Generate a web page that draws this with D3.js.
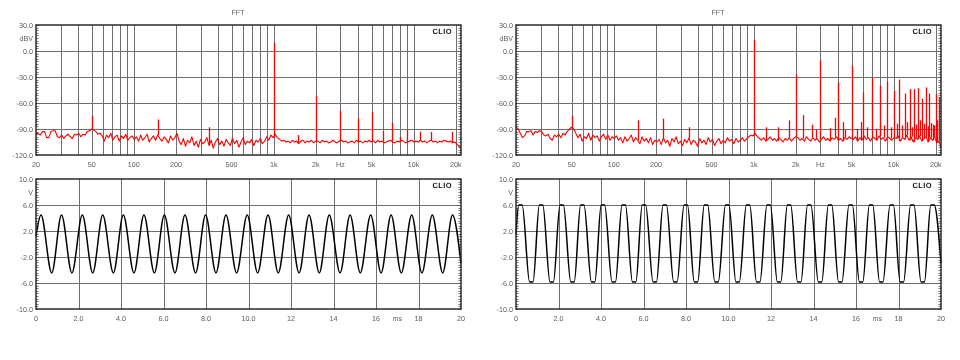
<!DOCTYPE html>
<html><head><meta charset="utf-8">
<script src="https://cdn.jsdelivr.net/npm/d3@7"></script>
<style>
html,body{margin:0;padding:0;background:#fff;}
svg{display:block;will-change:transform;transform:translateZ(0);}
text{font-family:"Liberation Sans",Arial,sans-serif;text-rendering:geometricPrecision;}
</style></head><body>
<svg id="chart" width="960" height="360"></svg>
<script>
// ---------- axis / tick data ----------
const fftTickValues = [20,50,100,200,500,1000,2000,3000,5000,10000,20000];
const fftTickLabels = ["20","50","100","200","500","1k","2k","Hz","5k","10k","20k"];
const fftGridFreqs = [30,40,50,60,70,80,90,100,200,300,400,500,600,700,800,900,1000,2000,3000,4000,5000,6000,7000,8000,9000,10000,20000];
const dbTickValues = [30,15,0,-30,-60,-90,-120];
const dbTickLabels = ["30.0","dBV","0.0","-30.0","-60.0","-90.0","-120.0"];
const dbGrid = [0,-30,-60,-90];
const msTickValues = [0,2,4,6,8,10,12,14,16,17,18,20];
const msTickLabels = ["0","2.0","4.0","6.0","8.0","10.0","12","14","16","ms","18","20"];
const msGrid = [2,4,6,8,10,12,14,16,18];
const vTickValues = [10,8,6,2,-2,-6,-10];
const vTickLabels = ["10.0","V","6.0","2.0","-2.0","-6.0","-10.0"];
const vGrid = [6,2,-2,-6];

// ---------- FFT data (dBV), noise floor sampled log-spaced from 20 Hz to 21.8 kHz ----------
const fftFreqStart = 20, fftFreqEnd = 21800;
const noiseLeft = [
 -95,-95,-97,-93,-93,-100,-100,-93,-92,-92,-99,-100,-97,-101,-98,-96,-99,-101,-96,-97,-95,-99,-96,-97,-93,-92,-90,
 -91,-93,-96,-95,-98,-104,-97,-100,-95,-103,-99,-97,-104,-98,-101,-96,-103,-100,-98,-102,
 -99,-104,-97,-103,-100,-96,-105,-101,-98,-103,-97,-101,-104,-99,-102,-106,-98,-103,-100,-95,
 -104,-108,-101,-110,-103,-106,-99,-109,-104,-111,-102,-107,-105,-100,-109,-103,-112,-105,-101,-108,-104,-110,-102,-106,-109,-101,-107,-103,-111,-105,-100,-108,-104,-106,-102,-109,-103,-105,-101,-107,-104,-99,-103,-97,-100,
 -96,-100,-102,-104,-103,-105,-104,-106,-103,-105,-104,-107,-104,-103,-106,-104,-105,-103,-106,-104,
 -104,-106,-103,-105,-104,-106,-105,-103,-105,-106,-104,-103,-105,-104,-106,-105,-104,-106,-103,-105,-104,-106,-104,-105,-103,-105,
 -104,-106,-103,-105,-104,-106,-105,-104,-103,-105,-106,-104,-105,-103,-104,-106,-105,-104,-103,-105,
 -104,-105,-103,-105,-104,-106,-104,-103,-105,-104,-106,-104,-105,-103,-104,-105,-104,-106,-105,-107,-110,-113
];
const noiseRight = [
 -88,-90,-95,-100,-98,-93,-93,-92,-97,-93,-94,-92,-93,-97,-98,-96,-101,-103,-97,-99,-96,-100,-95,-97,-93,-90,-88,
 -90,-95,-100,-96,-104,-99,-101,-95,-103,-97,-100,-98,-104,-99,-96,-102,-97,-103,-99,-101,
 -98,-103,-100,-106,-99,-104,-101,-97,-105,-100,-103,-107,-99,-104,-101,-106,-100,-108,-103,-105,
 -102,-108,-100,-106,-103,-110,-101,-105,-99,-107,-104,-109,-102,-106,-100,-108,-103,-105,-110,-101,-106,-103,-108,-100,-105,-102,-109,-104,-101,-107,-103,-106,-100,-104,-102,-107,-101,-105,-103,-100,-104,-101,-99,-97,-98,
 -95,-99,-101,-103,-100,-104,-102,-99,-103,-101,-104,-100,-102,-105,-101,-103,-100,-104,-101,-99,
 -100,-103,-101,-104,-99,-102,-104,-100,-103,-101,-105,-102,-99,-103,-101,-104,-100,-102,-99,-103,-101,-104,-100,-102,-99,-101,
 -102,-99,-104,-100,-103,-98,-102,-100,-104,-99,-101,-103,-98,-102,-100,-104,-99,-101,-103,-100,
 -101,-98,-104,-100,-102,-97,-103,-99,-105,-100,-102,-98,-104,-101,-99,-105,-100,-103,-98,-106,-104,-112
];
const spikeFreqsLeft  = [50,150,345,1000,1500,2000,3000,4000,5000,6000,7000,8000,9000,11100,13300,18800];
const spikeLevelsLeft = [-75,-79,-88,9.6,-97,-51.5,-69,-77.7,-70.8,-92.7,-83,-99,-91,-93,-93.5,-93.5];
const spikeFreqsRight  = [50,150,223,345,1000,1220,1480,1800,2000,2240,2610,2800,3000,3500,3830,4000,4330,4500,5000,5500,5850,6000,6500,7000,7500,7960,8000,8500,9000,9500,10000,10500,11000,11500,12000,12500,13000,13500,14000,14500,15000,15500,16000,16500,17000,17500,18000,18500,19000,19500,20000,20500,21000];
const spikeLevelsRight = [-75,-80,-78,-88,12.7,-88,-88,-80,-27,-74,-85,-91,-11,-89,-77,-36,-82,-91,-17,-90,-82,-48,-88,-31,-90,-85,-40,-86,-35,-88,-46,-84,-33,-86,-49,-82,-44,-88,-44,-85,-43,-80,-55,-84,-42,-87,-49,-83,-85,-86,-50,-80,-53];

// ---------- time-domain data (ms, V) ----------
const waveAPeakT   = [0.235,1.20,2.18,3.14,4.11,5.08,6.04,7.01,7.98,8.94,9.94,10.92,11.89,12.85,13.80,14.78,15.75,16.71,17.68,18.65,19.60];
const waveATroughT = [0.74,1.69,2.67,3.64,4.61,5.57,6.54,7.51,8.47,9.44,10.43,11.40,12.38,13.33,14.31,15.26,16.24,17.19,18.16,19.14];
const waveAPeakV = 4.45, waveATroughV = -4.45, waveAStartV = 1.2, waveAEndV = -3.0;

const waveBPeakT   = [0.21,1.18,2.15,3.12,4.09,5.07,6.02,7.00,7.99,8.94,9.94,10.92,11.89,12.85,13.80,14.78,15.75,16.71,17.68,18.65,19.60];
const waveBTroughT = [0.72,1.68,2.66,3.63,4.60,5.56,6.53,7.50,8.47,9.44,10.43,11.40,12.38,13.33,14.31,15.26,16.24,17.19,18.16,19.14];
const waveBClipHi = 6.0, waveBClipLo = -5.85, waveBFlatHalf = 0.08, waveBStartV = 1.5, waveBEndV = -3.0;

// ---------- drawing ----------
const svg = d3.select("#chart");
const PW = 425, PH = 130;
const gridColor = "#6e6e6e", frameColor = "#2a2a2a", labelColor = "#606060";

function frameAndLabels(g, x, y, xGrid, yGrid, xVals, xLabs, yVals, yLabs, minorStep, yDomain) {
  g.selectAll(".vg").data(xGrid).join("line")
    .attr("x1", d => Math.round(x(d)) + 0.5).attr("x2", d => Math.round(x(d)) + 0.5)
    .attr("y1", 0).attr("y2", PH).attr("stroke", gridColor).attr("stroke-width", 1);
  g.selectAll(".hg").data(yGrid).join("line")
    .attr("y1", d => Math.round(y(d)) + 0.5).attr("y2", d => Math.round(y(d)) + 0.5)
    .attr("x1", 0).attr("x2", PW).attr("stroke", gridColor).attr("stroke-width", 1);
  const minors = d3.range(yDomain[0], yDomain[1] + 1e-9, minorStep);
  g.selectAll(".mtl").data(minors).join("line")
    .attr("x1", 0).attr("x2", 2.5).attr("y1", d => Math.round(y(d)) + 0.5).attr("y2", d => Math.round(y(d)) + 0.5)
    .attr("stroke", "#555").attr("stroke-width", 0.8);
  g.selectAll(".mtr").data(minors).join("line")
    .attr("x1", PW - 2.5).attr("x2", PW).attr("y1", d => Math.round(y(d)) + 0.5).attr("y2", d => Math.round(y(d)) + 0.5)
    .attr("stroke", "#555").attr("stroke-width", 0.8);
  g.selectAll(".xl").data(xVals).join("text")
    .attr("x", d => x(d)).attr("y", PH + 9.5).attr("text-anchor", "middle")
    .attr("dominant-baseline", "central").attr("font-size", 7.2).attr("fill", labelColor)
    .text((d, i) => xLabs[i]);
  g.selectAll(".yl").data(yVals).join("text")
    .attr("x", -3).attr("y", d => y(d)).attr("text-anchor", "end")
    .attr("dominant-baseline", "central").attr("font-size", 7.2).attr("fill", labelColor)
    .text((d, i) => yLabs[i]);
}
function frameBorder(g) {
  g.append("rect").attr("x", 0).attr("y", 0).attr("width", PW).attr("height", PH)
    .attr("fill", "none").attr("stroke", frameColor).attr("stroke-width", 1.5);
  g.append("text").attr("x", PW - 9).attr("y", 6.5).attr("text-anchor", "end")
    .attr("dominant-baseline", "central").attr("font-family", "'Liberation Serif','Times New Roman',serif")
    .attr("font-weight", "bold").attr("font-size", 7.5).attr("letter-spacing", 0.4).attr("fill", "#111").text("CLIO");
}

function drawFFT(ox, noise, spikeF, spikeL) {
  const g = svg.append("g").attr("transform", `translate(${ox},25)`);
  const x = d3.scaleLog().domain([fftFreqStart, fftFreqEnd]).range([0, PW]);
  const y = d3.scaleLinear().domain([-120, 30]).range([PH, 0]);
  svg.append("text").attr("x", ox + 202).attr("y", 12.7).attr("text-anchor", "middle")
    .attr("dominant-baseline", "central").attr("font-size", 7.2).attr("fill", labelColor).text("FFT");
  frameAndLabels(g, x, y, fftGridFreqs, dbGrid, fftTickValues, fftTickLabels, dbTickValues, dbTickLabels, 3, [-120, 30]);
  const n = noise.length;
  const freqAt = i => fftFreqStart * Math.pow(fftFreqEnd / fftFreqStart, i / (n - 1));
  const pts = noise.map((v, i) => [freqAt(i), v]);
  g.append("path").datum(pts)
    .attr("d", d3.line().x(d => x(d[0])).y(d => y(d[1])))
    .attr("fill", "none").attr("stroke", "#ff0000").attr("stroke-width", 1.1).attr("stroke-linejoin", "round");
  const idxOf = f => Math.max(0, Math.min(n - 1, Math.round(Math.log(f / fftFreqStart) / Math.log(fftFreqEnd / fftFreqStart) * (n - 1))));
  g.selectAll(".sp").data(spikeF).join("line")
    .attr("x1", d => Math.round(x(d)) + 0.5).attr("x2", d => Math.round(x(d)) + 0.5)
    .attr("y1", d => y(noise[idxOf(d)])).attr("y2", (d, i) => y(spikeL[i]))
    .attr("stroke", "#ff0000").attr("stroke-width", 1.3);
  frameBorder(g);
}

function drawWave(ox, pts, curve) {
  const g = svg.append("g").attr("transform", `translate(${ox},179)`);
  const x = d3.scaleLinear().domain([0, 20]).range([0, PW]);
  const y = d3.scaleLinear().domain([-10, 10]).range([PH, 0]);
  frameAndLabels(g, x, y, msGrid, vGrid, msTickValues, msTickLabels, vTickValues, vTickLabels, 0.4, [-10, 10]);
  g.append("path").datum(pts)
    .attr("d", d3.line().curve(curve).x(d => x(d[0])).y(d => y(d[1])))
    .attr("fill", "none").attr("stroke", "#000").attr("stroke-width", 1.5);
  frameBorder(g);
}

drawFFT(36, noiseLeft, spikeFreqsLeft, spikeLevelsLeft);
drawFFT(516, noiseRight, spikeFreqsRight, spikeLevelsRight);

const waveAPts = [[0, waveAStartV]]
  .concat(waveAPeakT.map(t => [t, waveAPeakV]))
  .concat(waveATroughT.map(t => [t, waveATroughV]))
  .concat([[20, waveAEndV]])
  .sort((a, b) => a[0] - b[0]);
drawWave(36, waveAPts, d3.curveMonotoneX);

const waveBPts = [[0, waveBStartV]]
  .concat(waveBPeakT.flatMap(t => [[t - waveBFlatHalf, waveBClipHi], [t + waveBFlatHalf, waveBClipHi]]))
  .concat(waveBTroughT.flatMap(t => [[t - waveBFlatHalf, waveBClipLo], [t + waveBFlatHalf, waveBClipLo]]))
  .concat([[20, waveBEndV]])
  .sort((a, b) => a[0] - b[0]);
drawWave(516, waveBPts, d3.curveMonotoneX);
</script>
</body></html>
